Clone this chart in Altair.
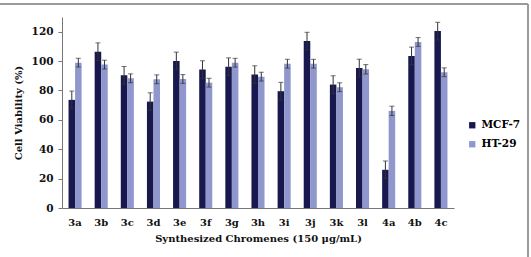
import altair as alt
import pandas as pd

compounds = ["3a", "3b", "3c", "3d", "3e", "3f", "3g", "3h", "3i", "3j", "3k", "3l", "4a", "4b", "4c"]
series = ["MCF-7", "HT-29"]
mcf7 = [73.6, 106.4, 90.3, 72.4, 100.1, 94.2, 96.2, 90.8, 79.5, 113.6, 84.0, 95.3, 26.0, 103.5, 120.4]
mcf7_err = [6.0, 6.0, 6.0, 6.0, 6.0, 6.0, 6.0, 6.0, 6.0, 6.0, 6.0, 6.0, 6.0, 6.0, 6.0]
ht29 = [98.9, 97.6, 88.3, 87.6, 87.8, 85.3, 98.9, 89.4, 98.2, 98.2, 82.2, 94.4, 66.1, 113.0, 92.4]
ht29_err = [3.0, 3.0, 3.0, 3.0, 3.0, 3.0, 3.0, 3.0, 3.0, 3.0, 3.0, 3.2, 3.2, 3.0, 3.0]
y_ticks = [0, 20, 40, 60, 80, 100, 120]

rows = []
for i, c in enumerate(compounds):
    rows.append({"compound": c, "cell": "MCF-7", "value": mcf7[i], "err": mcf7_err[i]})
    rows.append({"compound": c, "cell": "HT-29", "value": ht29[i], "err": ht29_err[i]})
df = pd.DataFrame(rows)
df["lo"] = df["value"] - df["err"]
df["hi"] = df["value"] + df["err"]

FONT = "DejaVu Serif"

x_axis = alt.Axis(title="Synthesized Chromenes (150 μg/mL)", labelAngle=0, ticks=False,
                  labelPadding=9, titlePadding=6, domainColor="#777777")
x_scale = alt.Scale(paddingInner=0.5, paddingOuter=0.25)
xoff = alt.XOffset("cell:N", sort=series, scale=alt.Scale(paddingInner=0, paddingOuter=0))
y_scale = alt.Scale(domain=[0, 130], nice=False)
y_axis = alt.Axis(title="Cell Viability (%)", values=y_ticks, grid=False, tickSize=4,
                  labelOverlap=False, labelPadding=5, tickCount=7, labelFontSize=10.5,
                  domainColor="#777777", tickColor="#777777", titlePadding=8)

bars = alt.Chart(df).mark_bar().encode(
    x=alt.X("compound:N", sort=compounds, scale=x_scale, axis=x_axis),
    xOffset=xoff,
    y=alt.Y("value:Q", scale=y_scale, axis=y_axis),
    color=alt.Color("cell:N", sort=series,
                    scale=alt.Scale(domain=series, range=["#18184f", "#8f97cc"]),
                    legend=alt.Legend(title=None, orient="none", legendX=405, legendY=103,
                                      symbolType="square", symbolSize=40, labelFontSize=10.5,
                                      labelFont=FONT, labelFontWeight="bold", rowPadding=8,
                                      symbolStrokeWidth=0)),
)

rules = alt.Chart(df).mark_rule(color="#333333", strokeWidth=1).encode(
    x=alt.X("compound:N", sort=compounds, scale=x_scale, axis=x_axis), xOffset=xoff,
    y=alt.Y("lo:Q", scale=y_scale, axis=y_axis), y2="hi:Q",
)
caps = alt.Chart(df).mark_tick(color="#333333", thickness=1, size=5).encode(
    x=alt.X("compound:N", sort=compounds, scale=x_scale, axis=x_axis), xOffset=xoff,
    y=alt.Y("hi:Q", scale=y_scale, axis=y_axis),
)
caps_lo = alt.Chart(df).mark_tick(color="#333333", thickness=1, size=5).encode(
    x=alt.X("compound:N", sort=compounds, scale=x_scale, axis=x_axis), xOffset=xoff,
    y=alt.Y("lo:Q", scale=y_scale, axis=y_axis),
)

frame_top = alt.Chart(pd.DataFrame({"a": [0]})).mark_rule(color="#9a9a9a", strokeWidth=2).encode(
    x=alt.value(-62), x2=alt.value(466), y=alt.value(-13))
frame_right = alt.Chart(pd.DataFrame({"a": [0]})).mark_rule(color="#9a9a9a", strokeWidth=2).encode(
    x=alt.value(466), y=alt.value(-13), y2=alt.value(245))

chart = alt.layer(bars, rules, caps, caps_lo, frame_top, frame_right).properties(
    width=392, height=191,
    autosize=alt.AutoSizeParams(type="none"),
    padding={"left": 62, "top": 17, "right": 77, "bottom": 49},
    background="white",
).configure_view(stroke=None).configure_axis(
    labelFont=FONT, labelFontWeight="bold", labelFontSize=10, labelColor="#111111",
    titleFont=FONT, titleFontWeight="bold", titleFontSize=10, titleColor="#111111",
)

chart.save("out.html", embed_options={"renderer": "svg", "actions": False})
